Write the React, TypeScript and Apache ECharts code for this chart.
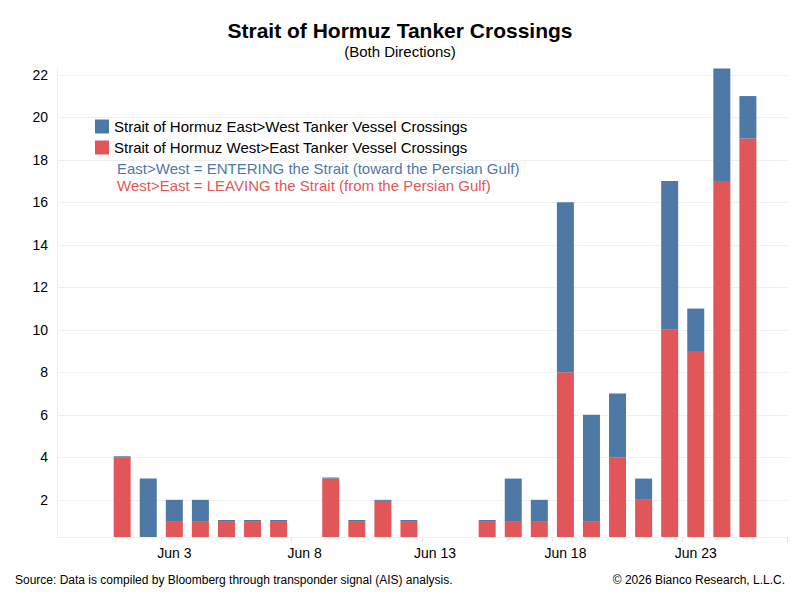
import React, { useEffect, useRef } from 'react';
import * as echarts from 'echarts';

// one category per day, May 30 .. Jun 26
const DATES = [
  'May 30', 'May 31', 'Jun 1', 'Jun 2', 'Jun 3', 'Jun 4', 'Jun 5', 'Jun 6', 'Jun 7',
  'Jun 8', 'Jun 9', 'Jun 10', 'Jun 11', 'Jun 12', 'Jun 13', 'Jun 14', 'Jun 15', 'Jun 16',
  'Jun 17', 'Jun 18', 'Jun 19', 'Jun 20', 'Jun 21', 'Jun 22', 'Jun 23', 'Jun 24', 'Jun 25',
  'Jun 26',
];

// West>East (leaving) - bottom of the stack
const WEST_EAST = [
  0, 0, 4, 0, 1, 1, 1, 1, 1, 0, 3, 1, 1.95, 1, 0, 0, 1, 1, 1, 8, 1, 4, 2, 10, 9, 17, 19, 0,
];

// East>West (entering) - top of the stack
const EAST_WEST = [
  0, 0, 0.05, 3, 1, 1, 0.05, 0.05, 0.05, 0, 0.05, 0.05, 0.05, 0.05, 0, 0, 0.05, 2, 1, 8, 5, 3, 1,
  7, 2, 5.3, 2, 0,
];

const Y_TICKS = [2, 4, 6, 8, 10, 12, 14, 16, 18, 20, 22];
const X_LABELS = ['Jun 3', 'Jun 8', 'Jun 13', 'Jun 18', 'Jun 23'];

const BLUE = '#4E79A7';
const RED = '#E15759';
const FONT = '"Liberation Sans", Arial, sans-serif';
const GRID_COLOR = '#efefef';

const NAME_EW = 'Strait of Hormuz East>West Tanker Vessel Crossings';
const NAME_WE = 'Strait of Hormuz West>East Tanker Vessel Crossings';

export default function App() {
  const chartRef = useRef<HTMLDivElement>(null);

  useEffect(() => {
    if (!chartRef.current) return;
    const chart = echarts.init(chartRef.current, null, { renderer: 'svg' });

    chart.setOption({
      animation: false,
      textStyle: { fontFamily: FONT },
      title: {
        text: 'Strait of Hormuz Tanker Crossings',
        subtext: '(Both Directions)',
        left: 'center',
        top: 15,
        itemGap: 3,
        textStyle: { fontFamily: FONT, fontSize: 21, fontWeight: 'bold', color: '#000' },
        subtextStyle: { fontFamily: FONT, fontSize: 15, color: '#000' },
      },
      legend: {
        orient: 'vertical',
        left: 95,
        top: 119,
        padding: 0,
        itemWidth: 14,
        itemHeight: 14,
        itemGap: 6,
        icon: 'rect',
        data: [NAME_EW, NAME_WE],
        textStyle: { fontFamily: FONT, fontSize: 15, color: '#000' },
      },
      grid: { left: 57, right: 13, top: 68, bottom: 63 },
      xAxis: {
        type: 'category',
        data: DATES,
        axisLine: { show: true, lineStyle: { color: GRID_COLOR } },
        axisTick: { show: true, length: 5, lineStyle: { color: '#e6e6e6' } },
        axisLabel: {
          fontFamily: FONT,
          fontSize: 14,
          color: '#000',
          margin: 9,
          interval: (idx: number, val: string) => X_LABELS.includes(val),
        },
      },
      yAxis: {
        type: 'value',
        min: 0.25,
        max: 22.32,
        axisLine: { show: true, lineStyle: { color: GRID_COLOR } },
        axisTick: { show: false, customValues: Y_TICKS },
        axisLabel: {
          customValues: Y_TICKS,
          fontFamily: FONT,
          fontSize: 14,
          color: '#000',
          margin: 9,
        },
        splitLine: { show: true, lineStyle: { color: GRID_COLOR, width: 1 } },
      },
      graphic: [
        {
          type: 'text',
          left: 117,
          top: 161,
          style: {
            text: 'East>West = ENTERING the Strait (toward the Persian Gulf)',
            fill: BLUE,
            font: `15px ${FONT}`,
          },
        },
        {
          type: 'text',
          left: 117,
          top: 178,
          style: {
            text: 'West>East = LEAVING the Strait (from the Persian Gulf)',
            fill: RED,
            font: `15px ${FONT}`,
          },
        },
        {
          type: 'text',
          left: 15,
          top: 574,
          style: {
            text: 'Source: Data is compiled by Bloomberg through transponder signal (AIS) analysis.',
            fill: '#000',
            font: `12px ${FONT}`,
          },
        },
        {
          type: 'text',
          right: 15,
          top: 574,
          style: {
            text: '\u00a9 2026 Bianco Research, L.L.C.',
            fill: '#000',
            font: `12px ${FONT}`,
          },
        },
      ],
      series: [
        {
          name: NAME_WE,
          type: 'bar',
          stack: 'total',
          barWidth: 17,
          itemStyle: { color: RED },
          data: WEST_EAST,
        },
        {
          name: NAME_EW,
          type: 'bar',
          stack: 'total',
          barWidth: 17,
          itemStyle: { color: BLUE },
          data: EAST_WEST,
        },
      ],
    });

    return () => {
      chart.dispose();
    };
  }, []);

  return (
    <div
      ref={chartRef}
      style={{ position: 'fixed', left: 0, top: 0, width: 800, height: 600, background: '#fff' }}
    />
  );
}
